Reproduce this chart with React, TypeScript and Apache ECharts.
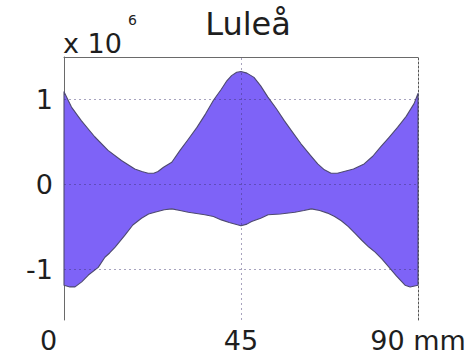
import React, { useEffect, useRef } from "react";
import * as echarts from "echarts";

// Envelope of the signal along the specimen (values in units of 10^6)
const upperX = [0, 1.9, 4.4, 7.8, 11.2, 14.6, 18, 19.8, 21.4, 22.8, 23.9, 25.3, 27.4, 29.5, 31.6, 33.8, 36, 38, 40, 41.4, 42.6, 43.9, 45, 46.5, 48.3, 50, 51.8, 54, 56, 58, 60.2, 62.5, 64.5, 66.2, 67.9, 69.5, 71.2, 73.6, 76.3, 78.5, 80.5, 82.6, 84.8, 87, 89, 90];
const upperY = [1.09, 0.91, 0.75, 0.56, 0.40, 0.28, 0.18, 0.15, 0.13, 0.13, 0.15, 0.20, 0.26, 0.40, 0.53, 0.67, 0.83, 0.99, 1.12, 1.22, 1.28, 1.32, 1.33, 1.31, 1.26, 1.16, 1.03, 0.89, 0.75, 0.62, 0.48, 0.35, 0.24, 0.17, 0.13, 0.13, 0.15, 0.18, 0.24, 0.33, 0.44, 0.55, 0.67, 0.80, 0.95, 1.07];

const lowerX = [0, 1.5, 2.8, 4.5, 6.2, 8.7, 10.4, 11.6, 13, 15.5, 17.5, 19.7, 21.5, 23.1, 25.5, 27.4, 29.5, 31.6, 35.8, 38, 40, 42, 44.3, 45, 46.5, 47.7, 50, 51.9, 55, 58.7, 61, 62.9, 65, 67, 68.8, 70.5, 72.3, 74, 75.7, 77.5, 79.1, 80.8, 82.5, 84.5, 86.7, 88, 90];
const lowerY = [-1.19, -1.21, -1.21, -1.15, -1.07, -0.98, -0.86, -0.81, -0.74, -0.60, -0.48, -0.40, -0.35, -0.33, -0.30, -0.29, -0.31, -0.33, -0.36, -0.38, -0.42, -0.45, -0.48, -0.49, -0.47, -0.44, -0.40, -0.36, -0.35, -0.33, -0.31, -0.29, -0.31, -0.34, -0.38, -0.43, -0.50, -0.58, -0.66, -0.74, -0.80, -0.88, -0.97, -1.08, -1.19, -1.21, -1.19];

const yTicks = [-1, 0, 1];
const xTicks = [0, 45, 90];
const gridY = [-1, 0, 1];
const gridX = [45];

const FONT = "DejaVu Sans, sans-serif";
const INK = "#1e1e1e";

export default function App() {
  const ref = useRef<HTMLDivElement>(null);

  useEffect(() => {
    if (!ref.current) return;
    const chart = echarts.init(ref.current, null, { renderer: "svg" });

    const option: any = {
      animation: false,
      backgroundColor: "#ffffff",
      title: {
        text: "Luleå",
        left: 243,
        top: 3,
        textAlign: "center",
        textStyle: { fontFamily: FONT, fontSize: 32, fontWeight: "normal", color: INK },
      },
      graphic: [
        {
          type: "text",
          left: 63,
          top: 30,
          style: { text: "x 10", fontFamily: FONT, fontSize: 27, fill: INK },
        },
        {
          type: "text",
          left: 128,
          top: 13,
          style: { text: "6", fontFamily: FONT, fontSize: 14, fill: INK },
        },
      ],
      grid: { left: 64, right: 54, top: 57, bottom: 37 },
      xAxis: [
        {
          type: "value",
          min: 0,
          max: 90,
          interval: 45,
          position: "bottom",
          axisLine: { show: false, onZero: false },
          axisTick: { show: false },
          splitLine: { show: false },
          axisLabel: {
            margin: 7,
            fontFamily: FONT,
            fontSize: 27,
            color: INK,
            formatter: (v: number) =>
              v === xTicks[0] ? "{z|0}" : v === xTicks[2] ? "90 mm" : String(v),
            rich: { z: { fontFamily: FONT, fontSize: 27, color: INK, padding: [0, 31, 0, 0] } },
          },
        },
        {
          type: "value",
          min: 0,
          max: 90,
          position: "top",
          axisLine: { show: true, onZero: false, lineStyle: { color: "#6a6a6a", width: 1 } },
          axisTick: { show: false },
          axisLabel: { show: false },
          splitLine: { show: false },
        },
      ],
      yAxis: [
        {
          type: "value",
          min: -1.6,
          max: 1.5,
          position: "left",
          axisLine: { show: true, onZero: false, lineStyle: { color: "#6a6a6a", width: 1 } },
          axisTick: { show: false, customValues: yTicks },
          splitLine: { show: false },
          axisLabel: {
            customValues: yTicks,
            margin: 11,
            fontFamily: FONT,
            fontSize: 27,
            color: INK,
          },
        },
        {
          type: "value",
          min: -1.6,
          max: 1.5,
          position: "right",
          axisLine: { show: true, onZero: false, lineStyle: { color: "#555555", width: 1, type: [2, 2] } },
          axisTick: { show: false },
          axisLabel: { show: false },
          splitLine: { show: false },
        },
      ],
      series: [
        {
          type: "custom",
          xAxisIndex: 0,
          yAxisIndex: 0,
          data: [[45, 0]],
          renderItem: (_params: any, api: any) => {
            const pts: number[][] = [];
            upperX.forEach((x, i) => pts.push(api.coord([x, upperY[i]])));
            for (let i = lowerX.length - 1; i >= 0; i--) {
              pts.push(api.coord([lowerX[i], lowerY[i]]));
            }
            return {
              type: "polygon",
              shape: { points: pts },
              style: { fill: "#7e63f7", stroke: "#4e4a70", lineWidth: 1.1, lineJoin: "round" },
            };
          },
          markLine: {
            silent: true,
            symbol: ["none", "none"],
            label: { show: false },
            lineStyle: { color: "rgba(60,50,110,0.45)", width: 1, type: [2, 3] },
            data: [
              ...gridY.map((v) => ({ yAxis: v })),
              ...gridX.map((v) => ({ xAxis: v })),
            ],
          },
        },
      ],
    };

    chart.setOption(option);
    return () => chart.dispose();
  }, []);

  return (
    <div
      ref={ref}
      style={{ position: "absolute", left: 0, top: 0, width: 472, height: 357 }}
    />
  );
}
